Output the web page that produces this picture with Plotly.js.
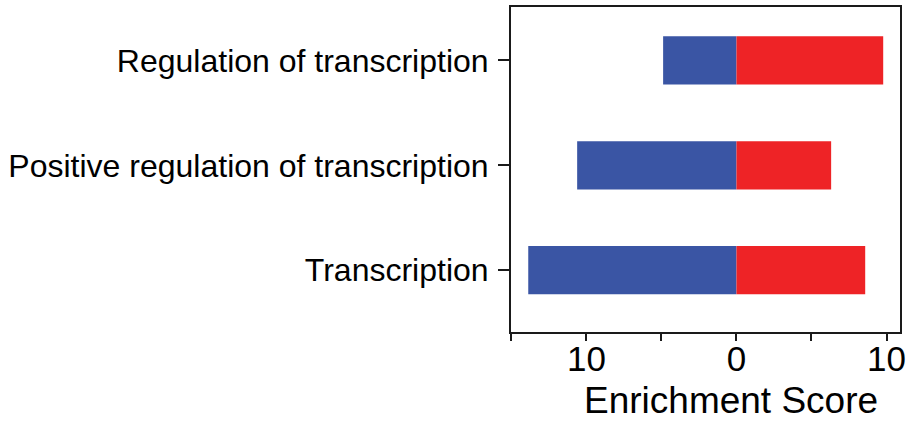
<!DOCTYPE html>
<html>
<head>
<meta charset="utf-8">
<script src="https://cdn.plot.ly/plotly-3.0.1.min.js"></script>
<style>html,body{margin:0;padding:0;background:#fff;}#chart{width:910px;height:421px;}</style>
</head>
<body>
<div id="chart"></div>
<script>
const categories = ["Transcription", "Positive regulation of transcription", "Regulation of transcription"];
const downScores = [-13.88, -10.62, -4.89];
const upScores = [8.58, 6.31, 9.78];
const xTickVals = [-15, -10, -5, 0, 5, 10];
const xTickText = ["", "10", "", "0", "", "10"];
const xTitle = "Enrichment Score";

const traces = [
  {type: "bar", orientation: "h", y: categories, x: downScores, marker: {color: "#3A55A4", line: {width: 0}}, width: 0.46, hoverinfo: "x+y"},
  {type: "bar", orientation: "h", y: categories, x: upScores, marker: {color: "#EE2326", line: {width: 0}}, width: 0.46, hoverinfo: "x+y"}
];

const layout = {
  width: 910, height: 421,
  margin: {l: 511, r: 10, t: 7, b: 89, pad: 0},
  barmode: "relative",
  showlegend: false,
  paper_bgcolor: "#fff", plot_bgcolor: "#fff",
  font: {family: "Liberation Sans, Arial, sans-serif", color: "#000"},
  xaxis: {
    range: [-15.03, 10.9],
    tickvals: xTickVals, ticktext: xTickText,
    ticks: "outside", ticklen: 7, tickwidth: 2, tickcolor: "#1a1a1a",
    showline: true, linewidth: 2, linecolor: "#1a1a1a", mirror: true,
    showgrid: false, zeroline: false,
    tickfont: {size: 35, color: "#000"},
    ticklabelstandoff: -12
  },
  yaxis: {
    range: [-0.59, 2.51],
    ticks: "outside", ticklen: 11, tickwidth: 2, tickcolor: "#1a1a1a",
    showline: true, linewidth: 2, linecolor: "#1a1a1a", mirror: true,
    showgrid: false, zeroline: false,
    tickfont: {size: 32, color: "#000"},
    ticklabelstandoff: 3,
    automargin: false
  },
  annotations: [{
    text: xTitle, xref: "paper", yref: "paper", x: 0.565, y: -0.21,
    xanchor: "center", yanchor: "middle", showarrow: false,
    font: {size: 37, color: "#000"}
  }]
};

Plotly.newPlot("chart", traces, layout, {displayModeBar: false, staticPlot: true});
</script>
</body>
</html>
